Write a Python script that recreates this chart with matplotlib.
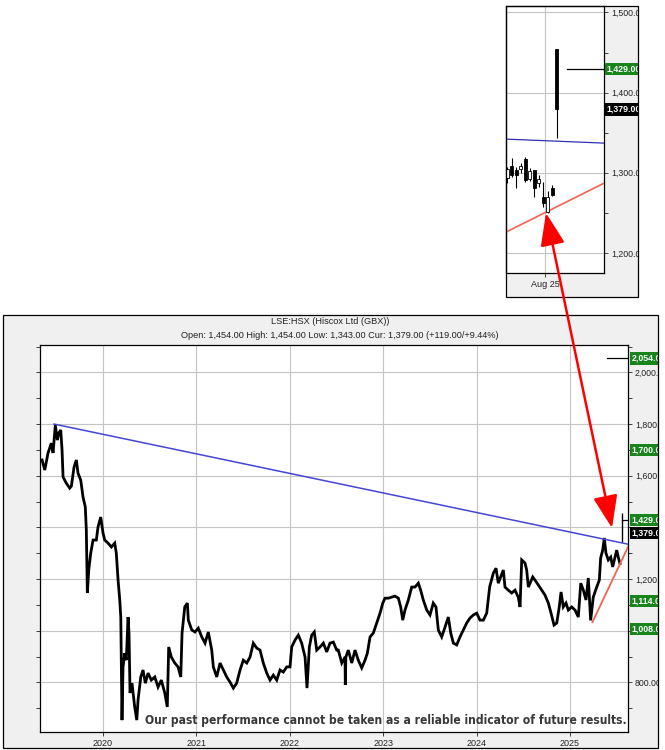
import numpy as np
import matplotlib.pyplot as plt
from matplotlib.patches import Rectangle, FancyArrowPatch
from matplotlib.ticker import MultipleLocator, FixedLocator, FuncFormatter

plt.rcParams['font.family'] = ['Liberation Sans', 'DejaVu Sans']

W, H = 665, 750

# price path (decimal year, GBX)
years = [2019.347, 2019.376, 2019.411, 2019.446, 2019.465, 2019.489, 2019.511, 2019.526,
         2019.547, 2019.561, 2019.572, 2019.607, 2019.643, 2019.661, 2019.690, 2019.714,
         2019.732, 2019.761, 2019.786, 2019.810, 2019.821, 2019.832, 2019.847, 2019.868,
         2019.893, 2019.928, 2019.946, 2019.975, 2020.000, 2020.018, 2020.054, 2020.089,
         2020.125, 2020.142, 2020.161, 2020.179, 2020.190, 2020.203, 2020.214, 2020.232,
         2020.249, 2020.268, 2020.278, 2020.289, 2020.310, 2020.339, 2020.361, 2020.375,
         2020.404, 2020.428, 2020.453, 2020.482, 2020.517, 2020.554, 2020.589, 2020.624,
         2020.661, 2020.688, 2020.703, 2020.731, 2020.768, 2020.803, 2020.832, 2020.846,
         2020.875, 2020.903, 2020.913, 2020.950, 2020.985, 2021.020, 2021.057, 2021.092,
         2021.127, 2021.164, 2021.181, 2021.217, 2021.253, 2021.288, 2021.324, 2021.360,
         2021.395, 2021.431, 2021.467, 2021.502, 2021.539, 2021.574, 2021.609, 2021.645,
         2021.681, 2021.716, 2021.753, 2021.788, 2021.823, 2021.860, 2021.895, 2021.930,
         2021.967, 2022.002, 2022.020, 2022.056, 2022.091, 2022.127, 2022.163, 2022.184,
         2022.209, 2022.234, 2022.262, 2022.288, 2022.323, 2022.359, 2022.395, 2022.430,
         2022.466, 2022.502, 2022.519, 2022.556, 2022.591, 2022.594, 2022.600, 2022.626,
         2022.663, 2022.698, 2022.733, 2022.770, 2022.805, 2022.830, 2022.859, 2022.894,
         2022.930, 2022.966, 2022.995, 2023.019, 2023.055, 2023.091, 2023.126, 2023.162,
         2023.187, 2023.209, 2023.233, 2023.269, 2023.305, 2023.340, 2023.376, 2023.401,
         2023.429, 2023.466, 2023.501, 2023.536, 2023.565, 2023.590, 2023.626, 2023.662,
         2023.697, 2023.723, 2023.751, 2023.787, 2023.822, 2023.858, 2023.894, 2023.929,
         2023.965, 2024.001, 2024.036, 2024.072, 2024.108, 2024.140, 2024.179, 2024.208,
         2024.232, 2024.258, 2024.286, 2024.304, 2024.339, 2024.376, 2024.411, 2024.446,
         2024.465, 2024.483, 2024.518, 2024.536, 2024.554, 2024.572, 2024.601, 2024.625,
         2024.661, 2024.697, 2024.732, 2024.768, 2024.797, 2024.829, 2024.858, 2024.885,
         2024.904, 2024.928, 2024.957, 2024.982, 2025.018, 2025.054, 2025.089, 2025.115,
         2025.143, 2025.171, 2025.196, 2025.221, 2025.249, 2025.286, 2025.314, 2025.328,
         2025.350, 2025.367, 2025.385, 2025.410, 2025.436, 2025.457, 2025.482, 2025.500,
         2025.517, 2025.535]
closes = [1661, 1622, 1688, 1726, 1688, 1796, 1738, 1765,
          1777, 1700, 1595, 1571, 1552, 1560, 1634, 1661,
          1610, 1583, 1517, 1479, 1390, 1146, 1235, 1300,
          1351, 1351, 1401, 1440, 1378, 1351, 1339, 1324,
          1339, 1300, 1196, 1119, 1053, 654, 860, 913,
          886, 1053, 991, 759, 797, 705, 654, 732,
          821, 848, 797, 836, 809, 821, 782, 809,
          759, 705, 937, 898, 875, 860, 821, 991,
          1092, 1107, 1041, 1003, 995, 1010, 976, 952,
          995, 925, 860, 821, 875, 848, 821, 801,
          778, 797, 848, 886, 875, 898, 952, 933,
          925, 875, 836, 809, 828, 809, 848, 840,
          860, 860, 937, 964, 983, 952, 898, 778,
          937, 983, 995, 925, 937, 952, 918, 952,
          956, 925, 925, 875, 898, 790, 898, 925,
          875, 925, 886, 856, 886, 913, 976, 991,
          1030, 1068, 1107, 1126, 1126, 1130, 1134, 1126,
          1092, 1041, 1080, 1119, 1169, 1169, 1184, 1157,
          1119, 1080, 1061, 1107, 1092, 1003, 976, 1014,
          1053, 991, 952, 945, 976, 1003, 1030, 1049,
          1061, 1068, 1041, 1041, 1068, 1170, 1223, 1242,
          1184, 1208, 1235, 1169, 1157, 1146, 1157, 1130,
          1092, 1274, 1262, 1235, 1169, 1184, 1208, 1196,
          1177, 1157, 1138, 1107, 1068, 1022, 1030, 1092,
          1150, 1092, 1107, 1080, 1092, 1080, 1053, 1184,
          1157, 1119, 1204, 1040, 1130, 1169, 1196, 1281,
          1312, 1359, 1300, 1274, 1285, 1247, 1285, 1312,
          1285, 1260]

# last session: open/high/low/close
last_x = 2025.557
last_ohlc = [1454, 1454, 1343, 1379]

resist_x = [2019.475, 2025.621]
resist_y = [1800, 1335]
support_x = [2025.24, 2025.621]
support_y = [1033, 1324]

target_x0 = 2025.396
target_high = 2054
target_low = 1429

level_values = [2054, 1700, 1429, 1379, 1114, 1008]
level_kinds = ['up', 'up', 'up', 'cur', 'up', 'up']
hidden_ticks = [1400, 1000]   # sit behind the level boxes

year_ticks = [2020, 2021, 2022, 2023, 2024, 2025]

# inset: recent daily candles (index = trading day)
c_open = [1293, 1309, 1303, 1305, 1317, 1292, 1304, 1287, 1270, 1251, 1281, 1454]
c_high = [1307, 1318, 1307, 1312, 1320, 1306, 1304, 1297, 1288, 1277, 1285, 1454]
c_low = [1287, 1295, 1281, 1300, 1289, 1290, 1270, 1282, 1257, 1250, 1271, 1343]
c_close = [1305, 1297, 1297, 1308, 1291, 1302, 1281, 1292, 1262, 1270, 1272, 1379]
inset_tick_pos = [8.35]
inset_tick_lbl = ['Aug 25']
inset_resist = [1342, 1337]
inset_support = [1226, 1287]
inset_levels = [1429, 1379]
inset_kinds = ['up', 'cur']

GREEN = '#17851c'
BLUE = '#4545d6'
SALMON = '#ef6450'
GRID = '#c4c4c4'
PANEL = '#f0f0f0'


def frac(x0, y0, x1, y1):
    return [x0 / W, 1 - y1 / H, (x1 - x0) / W, (y1 - y0) / H]


fig = plt.figure(figsize=(W / 100, H / 100), dpi=100)
fig.patch.set_facecolor('white')

# grey panels behind the plot areas
for x0, y0, x1, y1 in [(3, 315, 658, 748), (506, 6, 638, 297)]:
    r = frac(x0, y0, x1, y1)
    fig.add_artist(Rectangle((r[0], r[1]), r[2], r[3], transform=fig.transFigure,
                             fc=PANEL, ec='none', zorder=-5))

fmt = FuncFormatter(lambda v, p: f'{v:,.2f}')
main_fmt = FuncFormatter(lambda v, p: '' if round(v) in hidden_ticks else f'{v:,.2f}')


def level_box(ax, v, kind, x=1.006, size=6.3):
    ax.text(x, v, f'{v:,.2f}', transform=ax.get_yaxis_transform(), ha='left', va='center',
            color='white', fontsize=size, fontweight='bold', zorder=6, clip_on=False,
            bbox=dict(boxstyle='square,pad=0.18', fc=GREEN if kind == 'up' else 'black', ec='none'))


# ---- main chart ----
ax = fig.add_axes(frac(40, 345, 628, 732))
ax.set_facecolor('white')
ax.plot(years, closes, color='black', lw=2.0, solid_joinstyle='miter', zorder=3)
ax.vlines(last_x, last_ohlc[2], last_ohlc[1], color='black', lw=1.0, zorder=3)
ax.plot(resist_x, resist_y, color=BLUE, lw=1.1, zorder=3)
ax.plot(support_x, support_y, color=SALMON, lw=1.3, zorder=3)
ax.plot([target_x0, resist_x[1]], [target_high, target_high], color='black', lw=0.9, zorder=3)
ax.plot([last_x, resist_x[1]], [target_low, target_low], color='black', lw=0.9, zorder=3)

ax.set_xlim(2019.325, 2025.621)
ax.set_ylim(608, 2106)
ax.xaxis.set_major_locator(FixedLocator(year_ticks))
ax.set_xticklabels([str(y) for y in year_ticks])
ax.yaxis.set_major_locator(MultipleLocator(200))
ax.yaxis.set_minor_locator(MultipleLocator(100))
ax.yaxis.set_major_formatter(main_fmt)
ax.yaxis.tick_right()
ax.tick_params(axis='y', which='both', direction='out', length=3, width=0.6,
               labelsize=6.3, pad=2, colors='#222222', left=True, labelleft=False)
ax.tick_params(axis='x', length=3, width=0.6, labelsize=6.5, pad=2, colors='#222222')
ax.grid(True, which='major', color=GRID, lw=0.8)
ax.set_axisbelow(True)
for s in ax.spines.values():
    s.set_linewidth(0.9)

for v, k in zip(level_values, level_kinds):
    level_box(ax, v, k)

disc = ax.text(0.998, 0.031, 'Our past performance cannot be taken as a reliable indicator of future results.',
               transform=ax.transAxes, ha='right', va='center', fontsize=10.5, fontweight='bold',
               color='#383838', family='DejaVu Sans', fontstretch='condensed', zorder=5)

fig.text(330 / W, 1 - 322 / H, 'LSE:HSX (Hiscox Ltd (GBX))', ha='center', va='center',
         fontsize=6.6, color='#222222')
fig.text(340 / W, 1 - 335 / H,
         'Open: 1,454.00 High: 1,454.00 Low: 1,343.00 Cur: 1,379.00 (+119.00/+9.44%)',
         ha='center', va='center', fontsize=6.6, color='#222222')

# ---- inset chart ----
ins = fig.add_axes(frac(506, 6, 604, 273))
ins.set_facecolor('white')
ins.set_xlim(-0.3, 21.48)
ins.set_ylim(1175, 1508)
ins.plot([-0.3, 21.48], inset_resist, color='#3030b0', lw=0.9, zorder=3)
ins.plot([-0.3, 21.48], inset_support, color=SALMON, lw=1.2, zorder=3)
idx = np.arange(len(c_open))
ins.plot([13.26, 21.48], [inset_levels[0], inset_levels[0]], color='black', lw=0.9, zorder=3)
for i in idx:
    o, h, l, c = c_open[i], c_high[i], c_low[i], c_close[i]
    ins.vlines(i, l, h, color='black', lw=0.8, zorder=3)
    up = c >= o
    ins.add_patch(Rectangle((i - 0.32, min(o, c)), 0.64, abs(c - o),
                            fc='white' if up else 'black', ec='black', lw=0.6, zorder=4))
ins.xaxis.set_major_locator(FixedLocator(inset_tick_pos))
ins.set_xticklabels(inset_tick_lbl)
ins.yaxis.set_major_locator(MultipleLocator(100))
ins.yaxis.set_minor_locator(MultipleLocator(50))
ins.yaxis.set_major_formatter(fmt)
ins.yaxis.tick_right()
ins.tick_params(axis='y', which='both', direction='out', length=3, width=0.6,
                labelsize=6.3, pad=2, colors='#222222')
ins.tick_params(axis='x', length=3, width=0.6, labelsize=6.5, pad=2, colors='#222222')
ins.grid(True, which='major', color=GRID, lw=0.8)
ins.set_axisbelow(True)
for s in ins.spines.values():
    s.set_linewidth(0.9)
for v, k in zip(inset_levels, inset_kinds):
    level_box(ins, v, k, x=1.03)

# clip the right-hand labels at the panel edges
for x0, y0, x1, y1 in [(658.5, 0, 665, 750), (638.5, 0, 665, 310)]:
    r = frac(x0, y0, x1, y1)
    fig.add_artist(Rectangle((r[0], r[1]), r[2], r[3], transform=fig.transFigure,
                             fc='white', ec='none', zorder=8))
for x0, y0, x1, y1 in [(3, 315, 658, 748), (506, 6, 638, 297)]:
    r = frac(x0, y0, x1, y1)
    fig.add_artist(Rectangle((r[0], r[1]), r[2], r[3], transform=fig.transFigure,
                             fc='none', ec='black', lw=0.9, zorder=9))

# red double-headed arrow linking the inset to the main chart
arrow = FancyArrowPatch((546 / W, 1 - 213 / H), (612 / W, 1 - 528 / H), transform=fig.transFigure,
                        arrowstyle='<|-|>,head_length=2.0,head_width=0.75', mutation_scale=10,
                        color='#ff0000', lw=1.8, shrinkA=0, shrinkB=0, zorder=10)
fig.add_artist(arrow)

# squeeze the disclaimer into the width it takes on the reference
fig.canvas.draw()
w = disc.get_window_extent().width
disc.set_fontsize(disc.get_fontsize() * 482 / w)

fig.savefig('out.png', dpi=100)
